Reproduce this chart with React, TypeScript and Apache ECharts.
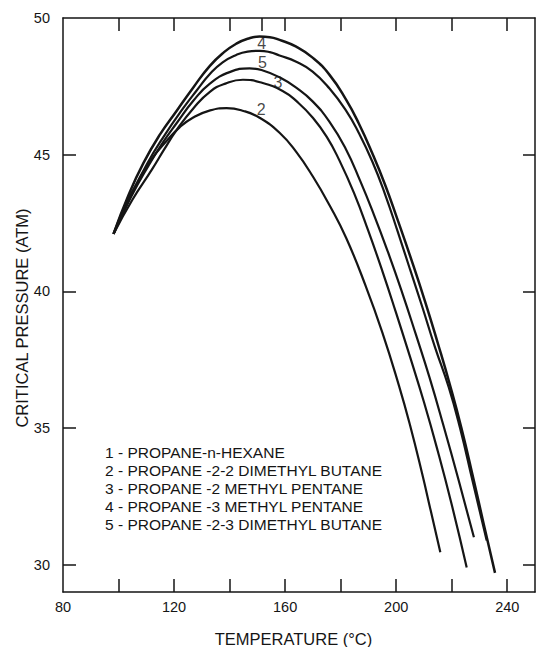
import React, { useEffect, useRef } from "react";
import * as echarts from "echarts";

// Curve 1 (propane - n-hexane)
const T1 = [98.2, 105, 112, 116.5, 120.9, 127, 132.9, 138.5, 144.8, 151, 159.1, 164.5, 169.9, 175, 179.5, 184.8, 190, 195, 200, 205, 210, 215, 220, 225.4];
const P1 = [42.1, 43.35, 44.45, 45.2, 45.9, 46.7, 47.3, 47.6, 47.74, 47.65, 47.33, 46.92, 46.36, 45.65, 44.8, 43.6, 42.2, 40.75, 39.2, 37.6, 35.95, 34.15, 32.2, 29.9];
// Curve 2 (propane - 2-2 dimethyl butane)
const T2 = [98.2, 102, 106.6, 112, 117.3, 122, 126.9, 133, 138.9, 145, 150.8, 158, 164, 170, 176, 182, 189, 195, 201, 205, 209.3, 212.5, 215.9];
const P2 = [42.1, 43.05, 43.95, 44.85, 45.5, 46.0, 46.36, 46.62, 46.7, 46.6, 46.35, 45.8, 45.1, 44.2, 43.15, 41.95, 40.2, 38.5, 36.55, 35.1, 33.35, 31.95, 30.45];
// Curve 3 (propane - 2 methyl pentane)
const T3 = [98.2, 104.5, 110.8, 116, 120.9, 127, 132.9, 140, 147.2, 152, 158, 164, 169.9, 176, 181.9, 187, 192, 197, 202, 207, 212, 217, 222.6, 228];
const P3 = [42.1, 43.45, 44.6, 45.45, 46.15, 46.98, 47.6, 48.02, 48.16, 48.08, 47.83, 47.45, 46.95, 46.2, 45.2, 44.05, 42.8, 41.45, 40.0, 38.45, 36.85, 35.1, 33.05, 31.0];
// Curve 4 (propane - 3 methyl pentane)
const T4 = [98.2, 103.5, 109, 115, 120.9, 127, 132.9, 138, 142.4, 146.5, 150.8, 154.5, 158, 164, 169.9, 176, 181.9, 186.5, 191.4, 196, 200.4, 205.5, 210.5, 215, 219.3, 223.5, 227.8, 231.5, 235.6];
const P4 = [42.1, 43.5, 44.7, 45.75, 46.6, 47.47, 48.25, 48.75, 49.06, 49.24, 49.32, 49.3, 49.2, 48.95, 48.55, 47.92, 47.02, 46.15, 45.05, 43.9, 42.65, 41.15, 39.6, 38.1, 36.6, 35.0, 33.15, 31.5, 29.7];
// Curve 5 (propane - 2-3 dimethyl butane)
const T5 = [98.2, 104, 110.2, 116.5, 123.3, 128, 132.9, 137.5, 142.4, 146.5, 150.8, 154.5, 158, 164, 169.9, 176, 181.9, 186.5, 191.4, 196, 200.5, 205, 209.5, 214, 218.9, 223, 227.5, 232.6];
const P5 = [42.1, 43.4, 44.65, 45.7, 46.7, 47.33, 47.95, 48.38, 48.65, 48.77, 48.8, 48.75, 48.63, 48.4, 48.04, 47.42, 46.62, 45.8, 44.75, 43.55, 42.2, 40.8, 39.4, 37.95, 36.5, 35.0, 33.07, 30.88];

const CURVE_LABELS = ["4", "5", "3", "2"];
const LABEL_T = [151.6, 151.8, 157.4, 151.4];
const LABEL_P = [49.05, 48.39, 47.63, 46.66];

const LEGEND_LINES = [
  "1 - PROPANE-n-HEXANE",
  "2 - PROPANE -2-2 DIMETHYL BUTANE",
  "3 - PROPANE -2 METHYL PENTANE",
  "4 - PROPANE -3 METHYL PENTANE",
  "5 - PROPANE -2-3 DIMETHYL BUTANE",
];

const X_TITLE = "TEMPERATURE (°C)";
const Y_TITLE = "CRITICAL PRESSURE (ATM)";

const X_TICK_LABELS = [80, 120, 160, 200, 240];
const X_TICKS = [100, 120, 140, 160, 180, 200, 220, 240];
const TOP_TICKS = [100, 120, 140, 151.5, 160, 180, 200, 220, 240];
const Y_TICK_LABELS = [30, 35, 40, 45, 50];
const Y_TICKS = [30, 35, 40, 45];

const INK = "#151515";
const FONT = "Liberation Sans, Arial, sans-serif";

function pairs(t: number[], p: number[]) {
  return t.map((v, i) => [v, p[i]]);
}

export default function App() {
  const ref = useRef<HTMLDivElement>(null);
  useEffect(() => {
    if (!ref.current) return;
    const chart = echarts.init(ref.current, undefined, { renderer: "svg" });
    const lineSeries = (name: string, t: number[], p: number[], w: number) => ({
      name,
      type: "line",
      data: pairs(t, p),
      xAxisIndex: 0,
      yAxisIndex: 0,
      showSymbol: false,
      symbol: "none",
      smooth: 0.5,
      lineStyle: { color: INK, width: w },
      z: 3,
    });
    const axisLineStyle = { color: INK, width: 1.5 };
    chart.setOption({
      animation: false,
      backgroundColor: "#ffffff",
      grid: { left: 63, right: 3, top: 18, bottom: 55, outerBoundsMode: "none", containLabel: false },
      xAxis: [
        {
          type: "value",
          position: "bottom",
          min: 80,
          max: 250,
          axisLine: { show: true, lineStyle: axisLineStyle },
          axisTick: { show: true, inside: true, length: 13, customValues: X_TICKS, lineStyle: axisLineStyle },
          axisLabel: { show: true, customValues: X_TICK_LABELS, margin: 7, fontSize: 14.5, color: INK, fontFamily: FONT },
          splitLine: { show: false },
          name: X_TITLE,
          nameLocation: "middle",
          nameGap: 38,
          nameTextStyle: { fontSize: 16.5, color: INK, fontFamily: FONT, padding: [0, 11, 0, 0] },
        },
        {
          type: "value",
          position: "top",
          min: 80,
          max: 250,
          axisLine: { show: true, lineStyle: axisLineStyle },
          axisTick: { show: true, inside: true, length: 13, customValues: TOP_TICKS, lineStyle: axisLineStyle },
          axisLabel: { show: false },
          splitLine: { show: false },
        },
      ],
      yAxis: [
        {
          type: "value",
          position: "left",
          min: 29,
          max: 50,
          axisLine: { show: true, lineStyle: axisLineStyle },
          axisTick: { show: true, inside: true, length: 13, customValues: Y_TICKS, lineStyle: axisLineStyle },
          axisLabel: { show: true, customValues: Y_TICK_LABELS, margin: 13, fontSize: 14.5, color: INK, fontFamily: FONT },
          splitLine: { show: false },
        },
        {
          type: "value",
          position: "right",
          min: 29,
          max: 50,
          axisLine: { show: true, lineStyle: axisLineStyle },
          axisTick: { show: true, inside: true, length: 12, customValues: Y_TICKS, lineStyle: axisLineStyle },
          axisLabel: { show: false },
          splitLine: { show: false },
        },
      ],
      series: [
        lineSeries("1", T1, P1, 2.2),
        lineSeries("2", T2, P2, 2.2),
        lineSeries("3", T3, P3, 2.2),
        lineSeries("4", T4, P4, 2.5),
        lineSeries("5", T5, P5, 2.2),
        {
          type: "scatter",
          xAxisIndex: 0,
          yAxisIndex: 0,
          symbolSize: 1,
          itemStyle: { color: "transparent" },
          data: LABEL_T.map((t, i) => [t, LABEL_P[i], CURVE_LABELS[i]]),
          label: {
            show: true,
            position: "inside",
            formatter: (p: any) => p.value[2],
            fontSize: 16,
            color: INK,
            fontFamily: FONT,
          },
          z: 4,
        },
      ],
      graphic: [
        ...LEGEND_LINES.map((text, i) => ({
          type: "text",
          left: 105,
          top: 453 + i * 18.2 - 9,
          style: { text, font: `15.5px ${FONT}`, fill: INK },
        })),
        {
          type: "text",
          x: 22,
          y: 318,
          rotation: Math.PI / 2,
          style: {
            text: Y_TITLE,
            font: `16.5px ${FONT}`,
            fill: INK,
            align: "center",
            verticalAlign: "middle",
          },
        },
      ],
    });
    return () => chart.dispose();
  }, []);
  return (
    <div
      ref={ref}
      style={{ position: "absolute", left: 0, top: 0, width: 538, height: 647, background: "#fff" }}
    />
  );
}
